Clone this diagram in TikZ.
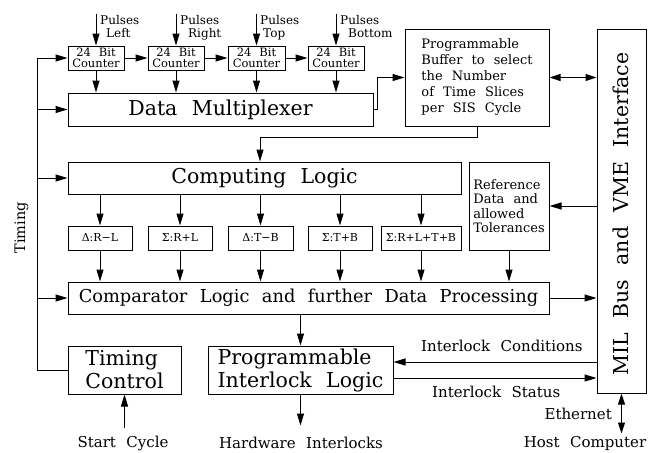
\documentclass[tikz,border=0pt]{standalone}
\usepackage{fontspec}
\setmainfont{DejaVu Serif}[WordSpace=2.2]
\usetikzlibrary{arrows.meta,calc}
\newcommand{\fsz}[2]{\fontsize{#1}{#2}\selectfont}
\begin{document}
\begin{tikzpicture}[x=1pt,y=-1pt,
  box/.style={draw, line width=1pt, inner sep=0pt, align=center},
  lbl/.style={inner sep=0pt},
  ln/.style={line width=1pt},
  arr/.style={line width=1pt, -{Triangle[length=12pt,width=7pt]}},
  darr/.style={line width=1pt, {Triangle[length=11pt,width=7pt]}-{Triangle[length=11pt,width=7pt]}},
  ctr/.style={box, minimum height=24, font=\fsz{11.5}{10.5}},
  sbox/.style={box, minimum height=24, font=\fsz{11}{11}},
  big/.style={font=\fsz{20.5}{23}},
  mid/.style={lbl, font=\fsz{15}{15}},
  pul/.style={lbl, anchor=base west, font=\fsz{12}{12}},
]
\useasboundingbox (0,0) rectangle (657,453);

% counters
\node[ctr, minimum width=56] (c1) at (96,58) {24 Bit\\Counter};
\node[ctr, minimum width=56] (c2) at (176,58) {24 Bit\\Counter};
\node[ctr, minimum width=57] (c3) at (256.5,58) {24 Bit\\Counter};
\node[ctr, minimum width=56] (c4) at (336,58) {24 Bit\\Counter};

% pulses labels
\node[pul] (p1a) at (100,24) {Pulses};
\node[pul] (p1b) at (106,37) {Left};
\node[pul] (p2a) at (180,24) {Pulses};
\node[pul] (p2b) at (188,37) {Right};
\node[pul] (p3a) at (260,24) {Pulses};
\node[pul] (p3b) at (263,37) {Top};
\node[pul] (p4a) at (340,24) {Pulses};
\node[pul] (p4b) at (348,37) {Bottom};

% main boxes
\node[box, big, minimum width=305, minimum height=33] (mux) at (220.5,109.5) {Data Multiplexer};
\node[box, minimum width=144, minimum height=97, align=left, font=\fsz{13}{16}] (buf) at (477,77.5)
  {Programmable\\Buffer to select\\the Number\\of Time Slices\\per SIS Cycle};
\node[box, minimum width=49, minimum height=364] (intf) at (621.5,211) {};
\node[lbl, rotate=90, anchor=base, font=\fsz{20.5}{20}] (intft) at (628.5,214) {MIL Bus and VME Interface};
\node[box, big, minimum width=393, minimum height=32] (comp) at (264.5,178) {Computing Logic};

\node[sbox, minimum width=64] (b1) at (100,238) {Δ:R−L};
\node[sbox, minimum width=64] (b2) at (180,238) {Σ:R+L};
\node[sbox, minimum width=65] (b3) at (260.5,238) {Δ:T−B};
\node[sbox, minimum width=64] (b4) at (340,238) {Σ:T+B};
\node[sbox, minimum width=80] (b5) at (421,238) {Σ:R+L+T+B};

\node[box, minimum width=80, minimum height=88, align=left, font=\fsz{13}{14.5}] (ref) at (509,206)
  {Reference\\Data and\\allowed\\Tolerances};
\node[box, minimum width=481, minimum height=32, font=\fsz{17.8}{20}] (cmp) at (308.5,298)
  {Comparator Logic and further Data Processing};
\node[box, big, minimum width=113, minimum height=48, align=left] (tc) at (124.5,370) {Timing\\Control};
\node[box, big, minimum width=185, minimum height=48, align=left] (prog) at (300.5,370) {Programmable\\Interlock Logic};

% labels
\node[lbl, rotate=90, anchor=base, font=\fsz{14.5}{15}] (timing) at (25,228) {Timing};
\node[mid, anchor=base west] (ilc) at (421,351) {Interlock Conditions};
\node[mid, anchor=base west] (ils) at (432,397) {Interlock Status};
\node[mid, anchor=base east] (eth) at (612,419) {Ethernet};
\node[mid, anchor=base] (host) at (585,447) {Host Computer};
\node[mid, anchor=base] (start) at (123,447) {Start Cycle};
\node[mid, anchor=base] (hw) at (301,448) {Hardware Interlocks};

% pulses arrows
\foreach \c in {c1,c2,c3,c4}{
  \draw[arr] ([yshift=32pt]\c.north) -- (\c.north);
  \draw[arr] (\c.south) -- (\c.south |- mux.north);
}
\draw[arr] (c1.east) -- (c2.west);
\draw[arr] (c2.east) -- (c3.west);
\draw[arr] (c3.east) -- (c4.west);

% timing
\coordinate (ttop) at (37,58);
\coordinate (tbot) at (37,370);
\draw[ln] (ttop) -- (tbot) -- (tc.west);
\draw[arr] (ttop) -- (c1.west);
\draw[arr] (ttop |- mux.west) -- (mux.west);
\draw[arr] (ttop |- comp.west) -- (comp.west);
\draw[arr] (ttop |- cmp.west) -- (cmp.west);

% mux -> buffer -> computing
\draw[arr] (mux.east) -- ++(4,0) |- (buf.west);
\draw[arr] (buf.south) -- ++(0,11) -| ($(comp.north)+(-4.5,0)$);
\draw[darr] (buf.east) -- (buf.east -| intf.west);

% computing -> small boxes -> comparator
\foreach \b in {b1,b2,b3,b4,b5}{
  \draw[arr] (\b.north |- comp.south) -- (\b.north);
  \draw[arr] (\b.south) -- (\b.south |- cmp.north);
}
\draw[arr] (intf.west |- ref.east) -- (ref.east);
\draw[arr] (ref.south) -- (ref.south |- cmp.north);
\draw[arr] (cmp.east) -- (cmp.east -| intf.west);

% bottom part
\draw[arr] (prog.north |- cmp.south) -- (prog.north);
\draw[arr] (prog.south) -- ([yshift=-31pt]prog.south);
\draw[arr] ([yshift=-33pt]tc.south) -- (tc.south);
\draw[arr] ($(prog.east -| intf.west)+(0,-8)$) -- ($(prog.east)+(0,-8)$);
\draw[arr] ($(prog.east)+(0,8)$) -- ($(prog.east -| intf.west)+(0,8)$);
\draw[darr] (intf.south) -- ([yshift=-40pt]intf.south);
\end{tikzpicture}
\end{document}
